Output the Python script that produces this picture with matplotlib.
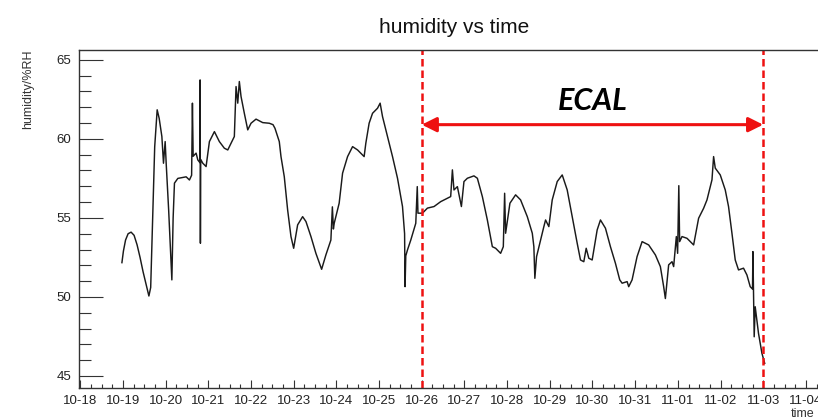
import datetime as dt
import numpy as np
import matplotlib
matplotlib.use("Agg")
import matplotlib.pyplot as plt
import matplotlib.dates as mdates
from matplotlib.ticker import MultipleLocator

plt.rcParams['font.family'] = ['Liberation Sans', 'DejaVu Sans']

# humidity log, time in days after 10-18 00:00
day_offset = [
    0.975, 1.01, 1.06, 1.12, 1.19, 1.26, 1.33, 1.40, 1.47, 1.54,
    1.607, 1.649, 1.70, 1.743,
    1.801, 1.848, 1.911, 1.949, 1.988, 2.012, 2.070, 2.145, 2.175, 2.206,
    2.285, 2.386, 2.48, 2.557, 2.608, 2.627, 2.644, 2.713, 2.753, 2.802,
    2.807, 2.814, 2.821, 2.870, 2.947, 3.025, 3.142, 3.258, 3.375, 3.455,
    3.572, 3.609, 3.649, 3.689, 3.726, 3.766, 3.843, 3.923, 4.0, 4.117,
    4.274, 4.428, 4.515, 4.561, 4.662, 4.702, 4.779, 4.858, 4.936, 4.999,
    5.092, 5.209, 5.287, 5.404, 5.520, 5.654, 5.754, 5.871, 5.906, 5.930,
    5.949, 6.065, 6.145, 6.262, 6.379, 6.496, 6.650, 6.690, 6.767, 6.847,
    6.964, 7.025, 7.081, 7.198, 7.315, 7.432, 7.549, 7.598, 7.609, 7.626,
    7.665, 7.743, 7.860, 7.895, 7.911, 7.937, 8.016, 8.133, 8.288, 8.444,
    8.601, 8.678, 8.718, 8.755, 8.835, 8.929, 8.989, 9.069, 9.223, 9.303,
    9.420, 9.537, 9.654, 9.731, 9.848, 9.911, 9.942, 9.965, 10.066, 10.199,
    10.316, 10.473, 10.590, 10.627, 10.650, 10.690, 10.784, 10.861, 10.901, 10.978,
    11.057, 11.174, 11.291, 11.408, 11.525, 11.642, 11.719, 11.797, 11.853, 11.914,
    11.993, 12.110, 12.187, 12.304, 12.421, 12.538, 12.639, 12.695, 12.812, 12.849,
    12.928, 13.045, 13.163, 13.317, 13.474, 13.591, 13.668, 13.708, 13.785, 13.864,
    13.902, 13.965, 13.995, 14.023, 14.042, 14.098, 14.215, 14.370, 14.487, 14.604,
    14.683, 14.800, 14.838, 14.877, 14.994, 15.111, 15.188, 15.268, 15.345, 15.422,
    15.539, 15.619, 15.696, 15.750, 15.759, 15.773, 15.789, 15.813, 15.890, 15.970,
    16.035,
]
humidity = [
    52.17, 52.9, 53.6, 54.0, 54.1, 53.9, 53.3, 52.5, 51.6, 50.8,
    50.06, 50.6, 55.3, 59.5,
    61.84, 61.3, 60.15, 58.46, 59.83, 58.46, 55.5, 51.08, 55.0, 57.2,
    57.5, 57.55, 57.6, 57.4, 57.7, 62.26, 58.9, 59.1, 58.67, 58.5,
    63.73, 53.4, 58.7, 58.46, 58.25, 59.83, 60.46, 59.83, 59.41, 59.3,
    59.94, 60.15, 63.31, 62.26, 63.63, 62.68, 61.62, 60.57, 60.99, 61.25,
    61.03, 60.99, 60.9, 60.67, 59.83, 58.88, 57.61, 55.5, 53.82, 53.08,
    54.56, 55.08, 54.77, 53.82, 52.76, 51.75, 52.66, 53.6, 55.7, 54.3,
    54.66, 55.93, 57.83, 58.88, 59.51, 59.3, 58.88, 59.73, 60.99, 61.62,
    61.94, 62.26, 61.41, 60.15, 58.88, 57.51, 55.72, 54.0, 50.65, 52.6,
    52.97, 53.6, 54.66, 56.98, 55.3, 55.3, 55.3, 55.62, 55.72, 56.03,
    56.25, 56.35, 58.04, 56.77, 56.98, 55.72, 57.3, 57.51, 57.66, 57.51,
    56.35, 54.87, 53.18, 53.08, 52.76, 53.18, 56.56, 54.03, 55.93, 56.46,
    56.14, 55.08, 54.03, 53.18, 51.18, 52.55, 53.6, 54.45, 54.87, 54.45,
    56.14, 57.3, 57.72, 56.77, 55.08, 53.4, 52.34, 52.23, 53.08, 52.45,
    52.34, 54.24, 54.87, 54.35, 53.18, 52.13, 51.08, 50.87, 50.97, 50.65,
    51.08, 52.55, 53.5, 53.29, 52.66, 51.92, 50.65, 49.9, 52.03, 52.23,
    51.92, 53.82, 52.76, 57.04, 53.5, 53.82, 53.71, 53.29, 54.98, 55.61,
    56.14, 57.41, 58.88, 58.15, 57.72, 56.77, 55.72, 54.03, 52.34, 51.71,
    51.82, 51.39, 50.65, 50.5, 52.87, 50.44, 47.48, 49.38, 47.7, 46.44,
    45.8,
]

# ECAL period boundaries (days after 10-18)
ecal_start = 8
ecal_end = 16
start = dt.datetime(2023, 10, 18)

times = [start + dt.timedelta(days=d) for d in day_offset]

fig = plt.figure(figsize=(8.18, 4.20), dpi=100)
ax = fig.add_axes([0.096, 0.0762, 0.909, 0.805])

ax.plot(times, humidity, color='#1a1a1a', lw=1.05)

ax.set_xlim(start - dt.timedelta(hours=1), start + dt.timedelta(days=17.38))
ax.set_ylim(44.24, 65.63)

ax.xaxis.set_major_locator(mdates.DayLocator())
ax.xaxis.set_major_formatter(mdates.DateFormatter('%m-%d'))
ax.xaxis.set_minor_locator(mdates.HourLocator(byhour=[6, 12, 18]))
ax.yaxis.set_major_locator(MultipleLocator(5))
ax.yaxis.set_minor_locator(MultipleLocator(1))

ax.tick_params(axis='y', which='major', direction='in', length=17, width=0.8,
               labelsize=9.5, pad=5, color='#333333')
ax.tick_params(axis='y', which='minor', direction='in', length=8.5, width=0.8,
               color='#333333')
ax.tick_params(axis='x', which='major', direction='in', length=6, width=0.8,
               labelsize=9.5, pad=5, color='#333333')
ax.tick_params(axis='x', which='minor', direction='in', length=3, width=0.8,
               color='#333333')
for lab in ax.get_xticklabels() + ax.get_yticklabels():
    lab.set_color('#222222')

for side in ['left', 'bottom', 'top', 'right']:
    ax.spines[side].set_color('#333333')
    ax.spines[side].set_linewidth(1.0)

ax.set_title('humidity vs time', fontsize=15, color='#111111', pad=12,
             x=0.505)
ax.set_ylabel('humidity/%RH', fontsize=9, color='#333333', loc='top')
ax.yaxis.set_label_coords(-0.060, 1.0)
ax.set_xlabel('time', fontsize=9, color='#333333', loc='right')
ax.xaxis.set_label_coords(0.990, -0.058)

# ECAL window: dashed boundaries and a double arrow between them
x0 = start + dt.timedelta(days=ecal_start)
x1 = start + dt.timedelta(days=ecal_end)
for xv in (x0, x1):
    ax.axvline(xv, color='#ee1111', lw=1.8, ls=(0, (3, 1.6)))
ax.annotate('', xy=(x0, 60.9), xytext=(x1, 60.9),
            arrowprops=dict(arrowstyle='<|-|>', color='#ee1111', lw=2.2,
                            mutation_scale=22, shrinkA=0, shrinkB=0))
ax.text(start + dt.timedelta(days=(ecal_start + ecal_end) / 2), 62.4, 'ECAL',
        ha='center', va='center', fontsize=22, fontweight='bold',
        fontstyle='italic', family=['Lato', 'DejaVu Sans'])

fig.savefig('out.png', dpi=100)
